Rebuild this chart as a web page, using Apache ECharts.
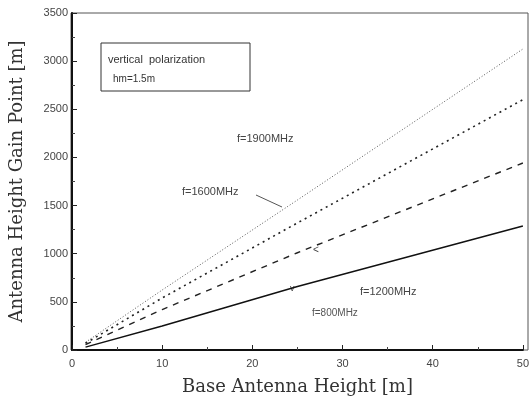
<!DOCTYPE html>
<html><head><meta charset="utf-8">
<script src="https://cdn.jsdelivr.net/npm/echarts@6/dist/echarts.min.js"></script>
<style>html,body{margin:0;padding:0;background:#fff}#c{width:532px;height:403px}</style>
</head><body><div id="c"></div>
<script>
// Data
const baseHeight = [1.5, 10, 25, 50];
const gain1900 = [80, 623, 1558, 3126];
const gain1600 = [70, 540, 1320, 2600];
const gain1200 = [55, 420, 1010, 1942];
const gain800 = [30, 250, 660, 1288];
const xTicks = [0, 10, 20, 30, 40, 50];
const yTicks = [0, 500, 1000, 1500, 2000, 2500, 3000, 3500];

function pts(ys){ return baseHeight.map((x,i)=>[x, ys[i]]); }

const chart = echarts.init(document.getElementById('c'));
const tickFont = {fontFamily:'Liberation Sans', fontSize:11, color:'#444'};
const titleFont = {fontFamily:'DejaVu Serif', fontSize:18, color:'#333'};
chart.setOption({
  animation:false,
  grid:{left:71, right:4, top:13, bottom:53},
  xAxis:{
    type:'value', min:xTicks[0], max:xTicks[xTicks.length-1], interval:10,
    name:'Base Antenna Height [m]', nameLocation:'middle', nameGap:28, nameTextStyle:titleFont,
    axisLine:{show:true, onZero:false, lineStyle:{color:'#111', width:2}},
    axisTick:{show:true, inside:true, length:5, lineStyle:{color:'#222'}},
    minorTick:{show:true, splitNumber:2, length:3, lineStyle:{color:'#444'}},
    axisLabel:Object.assign({margin:8, formatter:v=>String(v)}, tickFont),
    splitLine:{show:false}
  },
  yAxis:{
    type:'value', min:yTicks[0], max:yTicks[yTicks.length-1], interval:500,
    name:'Antenna Height Gain Point [m]', nameLocation:'middle', nameGap:46, nameTextStyle:titleFont,
    axisLine:{show:true, onZero:false, lineStyle:{color:'#111', width:2}},
    axisTick:{show:true, inside:true, length:5, lineStyle:{color:'#222'}},
    minorTick:{show:true, splitNumber:2, length:3, lineStyle:{color:'#444'}},
    axisLabel:Object.assign({margin:4, formatter:v=>String(v)}, tickFont),
    splitLine:{show:false}
  },
  series:[
    {type:'line', data:pts(gain1900), symbol:'none', lineStyle:{color:'#555', width:1, type:[1,2]}},
    {type:'line', data:pts(gain1600), symbol:'none', lineStyle:{color:'#222', width:1.6, type:[2,4]}},
    {type:'line', data:pts(gain1200), symbol:'none', lineStyle:{color:'#222', width:1.4, type:[6,6]}},
    {type:'line', data:pts(gain800), symbol:'none', lineStyle:{color:'#111', width:1.5}}
  ],
  graphic:[
    {type:'rect', shape:{x:71, y:13, width:457, height:337}, style:{fill:'none', stroke:'#555', lineWidth:1}, silent:true},
    {type:'rect', shape:{x:101, y:43, width:149, height:48}, style:{fill:'#fff', stroke:'#333', lineWidth:1}},
    {type:'text', left:108, top:54, style:{text:'vertical  polarization', font:'11px "Liberation Sans"', fill:'#333'}},
    {type:'text', left:113, top:74, style:{text:'hm=1.5m', font:'10px "Liberation Sans"', fill:'#333'}},
    {type:'text', left:237, top:133, style:{text:'f=1900MHz', font:'11px "Liberation Sans"', fill:'#444'}},
    {type:'text', left:182, top:186, style:{text:'f=1600MHz', font:'11px "Liberation Sans"', fill:'#444'}},
    {type:'line', shape:{x1:256, y1:195, x2:282, y2:207}, style:{stroke:'#555', lineWidth:1}},
    {type:'text', left:360, top:286, style:{text:'f=1200MHz', font:'11px "Liberation Sans"', fill:'#444'}},
    {type:'text', left:312, top:308, style:{text:'f=800MHz', font:'10px "Liberation Sans"', fill:'#555'}},
    {type:'text', left:313, top:245, style:{text:'<', font:'10px "Liberation Sans"', fill:'#444'}},
    {type:'text', left:290, top:284, style:{text:'v', font:'9px "Liberation Sans"', fill:'#444'}}
  ]
});
</script></body></html>
